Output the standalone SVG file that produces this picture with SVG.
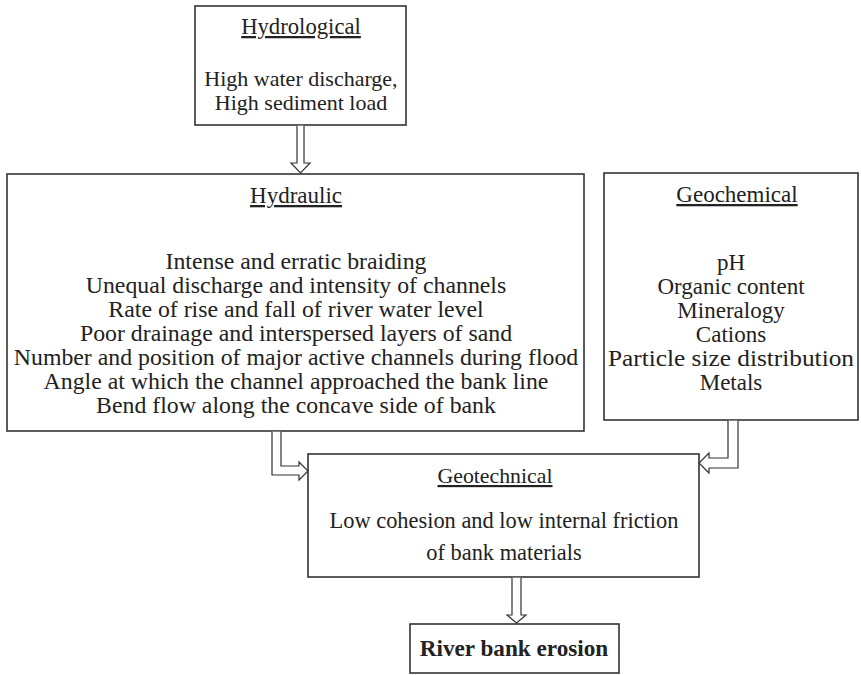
<svg xmlns="http://www.w3.org/2000/svg" width="861" height="675" viewBox="0 0 861 675">
<style>
.box{fill:#fff;stroke:#333;stroke-width:1.6}
.arr{fill:#fff;stroke:#333;stroke-width:1.2;stroke-linejoin:miter}
text{font-family:"Liberation Serif","Times New Roman",serif;font-size:22px;fill:#222;text-anchor:middle}
.t{text-decoration:underline}
.b{font-weight:bold}
#hydraulic text{font-size:23.8px}
#geochemical text{font-size:23px}
#geotechnical text{font-size:22.4px}
#erosion text{font-size:23.2px}
</style>
<rect width="861" height="675" fill="#fff"/>
<g id="hydrological">
<rect class="box" x="195" y="6" width="211" height="119"/>
<text class="t" x="301" y="34" style="font-size:22.7px">Hydrological</text>
<text x="301" y="86">High water discharge,</text>
<text x="301" y="110">High sediment load</text>
</g>
<g id="hydraulic">
<rect class="box" x="7" y="174" width="577" height="257"/>
<text class="t" x="296" y="203" style="font-size:23px">Hydraulic</text>
<text x="296" y="269">Intense and erratic braiding</text>
<text x="296" y="293">Unequal discharge and intensity of channels</text>
<text x="296" y="317">Rate of rise and fall of river water level</text>
<text x="296" y="341">Poor drainage and interspersed layers of sand</text>
<text x="296" y="365">Number and position of major active channels during flood</text>
<text x="296" y="389">Angle at which the channel approached the bank line</text>
<text x="296" y="413">Bend flow along the concave side of bank</text>
</g>
<g id="geochemical">
<rect class="box" x="604" y="173" width="254" height="247"/>
<text class="t" x="737" y="202">Geochemical</text>
<text x="731" y="270">pH</text>
<text x="731" y="294">Organic content</text>
<text x="731" y="318">Mineralogy</text>
<text x="731" y="342">Cations</text>
<text x="731" y="366" textLength="246" lengthAdjust="spacingAndGlyphs">Particle size distribution</text>
<text x="731" y="390">Metals</text>
</g>
<g id="geotechnical">
<rect class="box" x="308" y="454" width="391" height="123"/>
<text class="t" x="495" y="483" style="font-size:21.8px">Geotechnical</text>
<text x="504" y="528">Low cohesion and low internal friction</text>
<text x="504" y="560">of bank materials</text>
</g>
<g id="erosion">
<rect class="box" x="410" y="624" width="209" height="49"/>
<text class="b" x="514" y="656">River bank erosion</text>
</g>
<g id="connectors">
<path class="arr" d="M297,125.8 V163 H291 L300.5,173 L310,163 H304 V125.8"/>
<path class="arr" d="M272,431.8 V475 H299 V480 L308,471 L299,462 V466 H281 V431.8"/>
<path class="arr" d="M728,420.8 V458 H709 V453 L699,463 L709,473 V468 H738 V420.8"/>
<path class="arr" d="M512,577.8 V615 H507 L516.5,623 L526,615 H521 V577.8"/>
</g>
</svg>
